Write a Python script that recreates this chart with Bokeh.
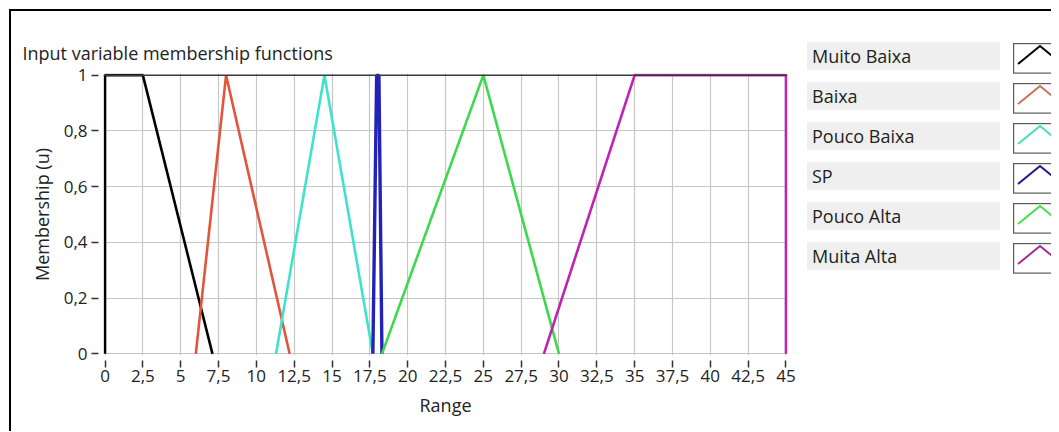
from bokeh.plotting import figure
from bokeh.models import Range1d, FixedTicker, Span, Div
from bokeh.layouts import row
from bokeh.embed import file_html
from bokeh.resources import INLINE

FONT = "Open Sans"

# ---- data ----
series_names = ["Muito Baixa", "Baixa", "Pouco Baixa", "SP", "Pouco Alta", "Muita Alta"]
series_colors = ["#000000", "#e2553b", "#3fe3cc", "#2222b8", "#3ed84e", "#c023b4"]
legend_colors = ["#000000", "#c8705a", "#40e0c0", "#22148c", "#40e050", "#a82a90"]
series_widths = [2.6, 2.6, 2.6, 3.4, 2.6, 2.6]

muito_baixa_x = [0, 0, 2.5, 7.1]
muito_baixa_y = [0, 1, 1, 0]
baixa_x = [6.0, 8.0, 12.2]
baixa_y = [0, 1, 0]
pouco_baixa_x = [11.3, 14.5, 17.7]
pouco_baixa_y = [0, 1, 0]
sp_x = [17.7, 17.95, 18.1, 18.3]
sp_y = [0, 1, 1, 0]
pouco_alta_x = [18.3, 25.0, 30.0]
pouco_alta_y = [0, 1, 0]
muita_alta_x = [29.0, 35.0, 45.0, 45.0]
muita_alta_y = [0, 1, 1, 0]

x_ticks = [0, 2.5, 5, 7.5, 10, 12.5, 15, 17.5, 20, 22.5, 25, 27.5, 30, 32.5, 35, 37.5, 40, 42.5, 45]
x_tick_labels = ["0", "2,5", "5", "7,5", "10", "12,5", "15", "17,5", "20", "22,5", "25",
                 "27,5", "30", "32,5", "35", "37,5", "40", "42,5", "45"]
y_ticks = [0, 0.2, 0.4, 0.6, 0.8, 1]
y_tick_labels = ["0", "0,2", "0,4", "0,6", "0,8", "1"]

title_text = "Input variable membership functions"
x_label = "Range"
y_label = "Membership (u)"

# ---- main plot ----
p = figure(width=789, height=420,
           x_range=Range1d(-0.1, 45.1), y_range=Range1d(-0.006, 1.006),
           output_backend="svg", toolbar_location=None,
           min_border_left=92, min_border_right=13, min_border_top=62, min_border_bottom=76)
p.outline_line_color = None
p.background_fill_color = "white"
p.border_fill_color = "white"

p.title.text = title_text
p.title.align = "left"
p.title.offset = -81
p.title.text_font = FONT
p.title.text_font_size = "18px"
p.title.text_font_style = "normal"
p.title.text_color = "#222222"
p.title.standoff = 18

p.xgrid.ticker = FixedTicker(ticks=x_ticks)
p.ygrid.ticker = FixedTicker(ticks=y_ticks)
p.grid.grid_line_color = "#c6c6c6"
p.grid.grid_line_width = 1.2

top_line = Span(location=y_ticks[-1], dimension="width", line_color="#3a3a3a", line_width=1.5)
p.add_layout(top_line)

p.xaxis.ticker = FixedTicker(ticks=x_ticks)
p.xaxis.major_label_overrides = {t: l for t, l in zip(x_ticks, x_tick_labels)}
p.yaxis.ticker = FixedTicker(ticks=y_ticks)
p.yaxis.major_label_overrides = {t: l for t, l in zip(y_ticks, y_tick_labels)}
p.xaxis.axis_label = x_label
p.yaxis.axis_label = y_label
for ax in (p.xaxis, p.yaxis):
    ax.axis_line_color = None
    ax.major_tick_line_color = "#333333"
    ax.major_tick_line_width = 1.5
    ax.minor_tick_line_color = None
    ax.major_tick_in = -5
    ax.major_tick_out = 12
    ax.major_label_text_font = FONT
    ax.major_label_text_font_size = "17px"
    ax.major_label_text_color = "#222222"
    ax.axis_label_text_font = FONT
    ax.axis_label_text_font_size = "18px"
    ax.axis_label_text_font_style = "normal"
    ax.axis_label_text_color = "#222222"
p.xaxis.major_label_standoff = 2
p.xaxis.axis_label_standoff = 8
p.yaxis.major_label_standoff = 4
p.yaxis.axis_label_standoff = 7

all_x = [muito_baixa_x, baixa_x, pouco_baixa_x, sp_x, pouco_alta_x, muita_alta_x]
all_y = [muito_baixa_y, baixa_y, pouco_baixa_y, sp_y, pouco_alta_y, muita_alta_y]
for xs, ys, c, w in zip(all_x, all_y, series_colors, series_widths):
    p.line(xs, ys, line_color=c, line_width=w)

# ---- legend panel (HTML) ----
items = []
for i, (name, col) in enumerate(zip(series_names, legend_colors)):
    top = 31 + 40 * i
    items.append(
        f'<div style="position:absolute;left:7px;top:{top}px;width:193px;height:28px;'
        f'background:#efefef;font-family:\'{FONT}\';font-size:18px;color:#1e1e1e;'
        f'line-height:28px;padding-left:5px;box-sizing:border-box;white-space:nowrap">{name}</div>'
        f'<svg style="position:absolute;left:213px;top:{top + 1}px" width="38" height="31">'
        f'<rect x="0.6" y="0.6" width="70" height="29.5" fill="white" stroke="#5a5a5a" stroke-width="1.2"/>'
        f'<polyline points="5,21 27,3 49,21" fill="none" stroke="{col}" stroke-width="2"/></svg>'
    )
legend_html = ('<div style="position:relative;width:251px;height:420px;background:white;overflow:hidden">'
               + "".join(items) + "</div>")
leg = Div(text=legend_html, width=251, height=420, styles={"margin": "0", "padding": "0"})

layout = row(p, leg, styles={"border-left": "2px solid black", "border-top": "2px solid black",
                             "margin-left": "9px", "margin-top": "9px"})

open("out.html", "w").write(file_html(layout, INLINE))
